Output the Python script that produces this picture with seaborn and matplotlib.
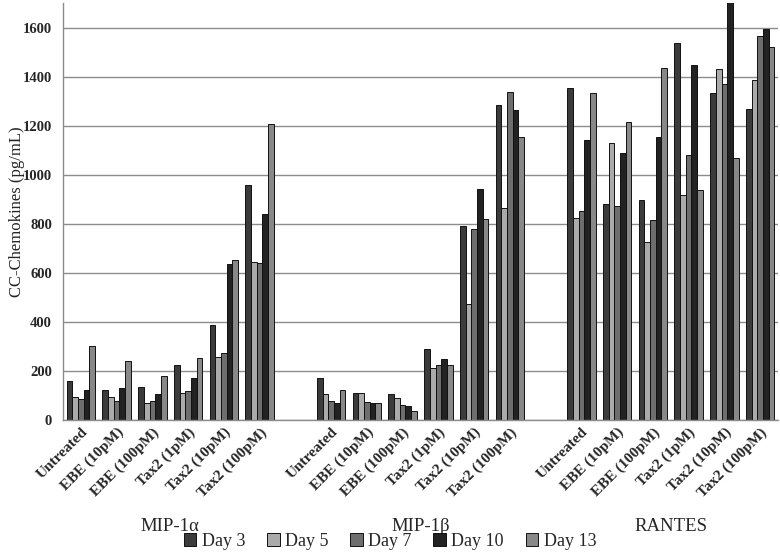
import pandas as pd
import matplotlib.pyplot as plt
import seaborn as sns

# ========= DADOS ==========
chemokines = ["MIP-1α", "MIP-1β", "RANTES"]
treatments = ["Untreated", "EBE (10pM)", "EBE (100pM)",
              "Tax2 (1pM)", "Tax2 (10pM)", "Tax2 (100pM)"]
days = ["Day 3", "Day 5", "Day 7", "Day 10", "Day 13"]

# valores por tratamento: [Day 3, Day 5, Day 7, Day 10, Day 13]
mip1a = [[160, 95, 84, 122, 301],
         [122, 95, 79, 129, 242],
         [133, 68, 79, 106, 181],
         [224, 111, 117, 171, 252],
         [388, 257, 275, 635, 652],
         [959, 646, 642, 841, 1208]]
mip1b = [[171, 106, 79, 68, 122],
         [111, 111, 73, 68, 68],
         [106, 90, 63, 57, 35],
         [290, 214, 224, 248, 224],
         [792, 473, 780, 942, 818],
         [1284, 864, 1338, 1262, 1154]]
rantes = [[1353, 823, 853, 1143, 1332],
          [879, 1128, 873, 1090, 1214],
          [895, 727, 814, 1155, 1435],
          [1537, 916, 1079, 1446, 937],
          [1332, 1430, 1370, 1710, 1068],
          [1268, 1386, 1565, 1592, 1521]]

colors = ["#3b3b3b", "#ababab", "#6e6e6e", "#222222", "#888888"]

# ========= TABELA ==========
rows = []
for chem, vals in zip(chemokines, [mip1a, mip1b, rantes]):
    for trat, linha in zip(treatments, vals):
        for dia, v in zip(days, linha):
            rows.append({"slot": chem + "|" + trat, "day": dia, "value": v})
df = pd.DataFrame(rows)

order = []
for i, chem in enumerate(chemokines):
    order += [chem + "|" + t for t in treatments]
    if i < len(chemokines) - 1:
        order.append("gap%d" % i)

# ========= GRÁFICO ==========
sns.set_style("white")
serif = ["Liberation Serif", "DejaVu Serif"]
plt.rcParams["font.family"] = serif

fig = plt.figure(figsize=(7.8, 5.57), dpi=100)
ax = fig.add_axes([63 / 780, 137 / 557, 715 / 780, 417 / 557])

sns.barplot(data=df, x="slot", y="value", hue="day", order=order,
            hue_order=days, palette=colors, edgecolor="#111111",
            linewidth=0.7, width=0.8, saturation=1, ax=ax)

ax.set_ylim(0, 1700)
ax.set_yticks(range(0, 1601, 200))
ax.yaxis.grid(True, color="#8c8c8c", linewidth=1)
ax.set_axisbelow(True)
for s in ["top", "right"]:
    ax.spines[s].set_visible(False)
for s in ["left", "bottom"]:
    ax.spines[s].set_color("#8c8c8c")
    ax.spines[s].set_linewidth(1)

labels = ["" if o.startswith("gap") else o.split("|")[1] for o in order]
ax.set_xticks(range(len(order)))
ax.set_xticklabels(labels, rotation=45, ha="right", rotation_mode="anchor",
                   fontsize=11, fontweight="bold")
ax.tick_params(axis="x", length=0, pad=4)
ax.tick_params(axis="y", length=4, color="#8c8c8c", labelsize=10.5, pad=4)
for t in ax.get_yticklabels():
    t.set_fontweight("bold")
ax.set_xlim(-0.5, len(order) - 0.5)
ax.set_xlabel("")
ax.set_ylabel("CC-Chemokines (pg/mL)", fontsize=12)
ax.yaxis.set_label_coords(-0.053, 0.5)

# rótulos de grupo
for i, chem in enumerate(chemokines):
    cx = i * 7 + 2.5
    ax.text(cx, -0.255, chem, transform=ax.get_xaxis_transform(),
            ha="center", va="center", fontsize=13.5)

handles, lbls = ax.get_legend_handles_labels()
ax.get_legend().remove()
fig.legend(handles, lbls, loc="center", bbox_to_anchor=(0.5, 0.028),
           ncol=5, frameon=False, fontsize=13, handlelength=0.7,
           handleheight=0.7, handletextpad=0.3, columnspacing=1.2)

plt.savefig("out.png", dpi=100)
